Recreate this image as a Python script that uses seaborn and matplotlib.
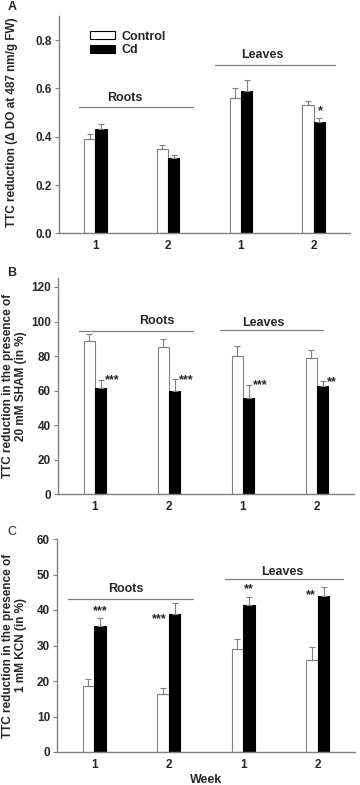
import numpy as np
import pandas as pd
import matplotlib
matplotlib.use("Agg")
import matplotlib.pyplot as plt
import seaborn as sns

# ---------------- data ----------------
groups = ["Roots 1", "Roots 2", "Leaves 1", "Leaves 2"]
week_labels = ["1", "2", "1", "2"]
treatments = ["Control", "Cd"]

a_control = [0.39, 0.35, 0.56, 0.53]
a_control_err = [0.02, 0.015, 0.04, 0.02]
a_cd = [0.43, 0.31, 0.59, 0.46]
a_cd_err = [0.022, 0.013, 0.043, 0.019]
a_stars = ["", "", "", "*"]

b_control = [88.5, 85.0, 80.0, 79.0]
b_control_err = [4.0, 5.0, 6.0, 4.5]
b_cd = [61.8, 59.5, 56.0, 62.5]
b_cd_err = [4.6, 7.0, 7.5, 3.0]
b_stars = ["***", "***", "***", "**"]

c_control = [18.5, 16.3, 29.0, 26.0]
c_control_err = [2.0, 1.7, 2.8, 3.5]
c_cd = [35.5, 39.0, 41.5, 44.0]
c_cd_err = [2.2, 3.0, 2.3, 2.5]
c_stars = ["***", "***", "**", "**"]

# ---------------- style ----------------
sns.set_theme(style="ticks")
plt.rcParams['font.family'] = ['Liberation Sans', 'DejaVu Sans']
plt.rcParams['font.weight'] = 'bold'
plt.rcParams['axes.labelweight'] = 'bold'

GRAY = "#808080"
FS_TICK = 8.5
FS_LAB = 8.5
FS_TXT = 9

fig = plt.figure(figsize=(3.6, 7.85), dpi=100)
W, H = 360, 785
axA = fig.add_axes([59 / W, 1 - 233.3 / H, 291 / W, 217.3 / H])
axB = fig.add_axes([58 / W, 1 - 494.3 / H, 296 / W, 216 / H])
axC = fig.add_axes([57 / W, 1 - 752 / H, 298 / W, 213 / H])


def panel(ax, ctrl, ctrl_err, cd, cd_err, legend):
    df = pd.DataFrame({
        "group": groups * 2,
        "treatment": ["Control"] * len(groups) + ["Cd"] * len(groups),
        "value": ctrl + cd,
    })
    sns.barplot(data=df, x="group", y="value", hue="treatment",
                order=groups, hue_order=treatments,
                palette={"Control": "white", "Cd": "black"},
                edgecolor=GRAY, linewidth=0.8, width=0.31,
                errorbar=None, ax=ax, legend=legend)
    for bar in ax.containers[1]:
        bar.set_edgecolor("black")
    for cont, errs in zip(ax.containers[:2], [ctrl_err, cd_err]):
        xs = [b.get_x() + b.get_width() / 2 for b in cont]
        ys = [b.get_height() for b in cont]
        ax.errorbar(xs, ys, yerr=[np.zeros(len(errs)), errs], fmt="none",
                    ecolor=GRAY, elinewidth=0.8, capsize=2.4, capthick=0.8,
                    zorder=1)
    ax.set_xlim(-0.5, 3.5)
    ax.set_xticks(range(len(groups)))
    ax.set_xticklabels(week_labels)
    ax.set_xlabel("")
    sns.despine(ax=ax)
    for s in ["left", "bottom"]:
        ax.spines[s].set_color(GRAY)
        ax.spines[s].set_linewidth(1.0)
    ax.tick_params(axis="y", length=3, width=0.8, color=GRAY,
                   labelsize=FS_TICK, pad=2)
    ax.tick_params(axis="x", length=0, labelsize=FS_TICK, pad=5)
    for t in ax.get_xticklabels() + ax.get_yticklabels():
        t.set_fontweight("bold")
    centers_ctrl = [b.get_x() + b.get_width() / 2 for b in ax.containers[0]]
    centers_cd = [b.get_x() + b.get_width() / 2 for b in ax.containers[1]]
    return centers_ctrl, centers_cd


# ---- Panel A ----
cc, cd_x = panel(axA, a_control, a_control_err, a_cd, a_cd_err, True)
axA.set_ylim(0, 0.9)
axA.set_yticks([0.0, 0.2, 0.4, 0.6, 0.8])
axA.set_yticklabels(["0.0", "0.2", "0.4", "0.6", "0.8"])
axA.set_ylabel("TTC reduction (\u0394 DO at 487 nm/g FW)", fontsize=FS_LAB,
               fontweight="bold")
axA.yaxis.set_label_coords(-0.142, 0.51)
axA.plot([-0.225, 1.346], [0.522, 0.522], color=GRAY, lw=0.9)
axA.plot([1.649, 3.30], [0.696, 0.696], color=GRAY, lw=0.9)
axA.text(0.41, 0.535, "Roots", ha="center", va="bottom", fontsize=FS_TXT,
         fontweight="bold")
axA.text(2.30, 0.715, "Leaves", ha="center", va="bottom", fontsize=FS_TXT,
         fontweight="bold")
for i, s in enumerate(a_stars):
    if s:
        axA.text(cd_x[i] + 0.01, a_cd[i] + a_cd_err[i] + 0.003, s,
                 ha="center", va="bottom", fontsize=FS_TXT, fontweight="bold")
leg = axA.legend(loc="upper left", bbox_to_anchor=(0.09, 0.955), frameon=False,
                 fontsize=FS_TXT, handlelength=2.0, handleheight=0.6,
                 handletextpad=0.5, labelspacing=0.1, borderaxespad=0)
for txt in leg.get_texts():
    txt.set_fontweight("bold")
for h in leg.legend_handles:
    h.set_edgecolor("black")
    h.set_linewidth(0.8)

# ---- Panel B ----
cc, cd_x = panel(axB, b_control, b_control_err, b_cd, b_cd_err, False)
axB.set_ylim(0, 125)
axB.set_yticks([0, 20, 40, 60, 80, 100, 120])
axB.set_ylabel("TTC reduction in the presence of\n20 mM SHAM (in %)",
               fontsize=FS_LAB, fontweight="bold", linespacing=1.1)
axB.yaxis.set_label_coords(-0.105, 0.5)
axB.plot([-0.217, 1.32], [94.3, 94.3], color=GRAY, lw=0.9)
axB.plot([1.686, 3.076], [95.0, 95.0], color=GRAY, lw=0.9)
axB.text(0.836, 100.4, "Roots", ha="center", va="center", fontsize=FS_TXT,
         fontweight="bold")
axB.text(2.27, 99.0, "Leaves", ha="center", va="center", fontsize=FS_TXT,
         fontweight="bold")
for i, s in enumerate(b_stars):
    axB.text(cd_x[i] + 0.06, b_cd[i] + b_cd_err[i] - 0.5, s, ha="left",
             va="center", fontsize=FS_TXT, fontweight="bold")

# ---- Panel C ----
cc, cd_x = panel(axC, c_control, c_control_err, c_cd, c_cd_err, False)
axC.set_ylim(0, 60)
axC.set_yticks([0, 10, 20, 30, 40, 50, 60])
axC.set_ylabel("TTC reduction in the presence of\n1 mM KCN (in %)",
               fontsize=FS_LAB, fontweight="bold", linespacing=1.1)
axC.yaxis.set_label_coords(-0.1, 0.5)
axC.set_xlabel("Week", fontsize=FS_TXT, fontweight="bold", labelpad=2)
axC.plot([-0.352, 1.325], [43.2, 43.2], color=GRAY, lw=0.9)
axC.plot([1.755, 3.34], [48.6, 48.6], color=GRAY, lw=0.9)
axC.text(0.426, 46.0, "Roots", ha="center", va="center", fontsize=FS_TXT,
         fontweight="bold")
axC.text(2.53, 50.6, "Leaves", ha="center", va="center", fontsize=FS_TXT,
         fontweight="bold")
c_star_x = [cd_x[0], cc[1] - 0.05, cd_x[2], cc[3] - 0.02]
c_star_y = [c_cd[0] + c_cd_err[0] + 0.3, 37.5, c_cd[2] + c_cd_err[2] + 0.3, 44.3]
c_star_va = ["bottom", "center", "bottom", "center"]
for x, y, s, va in zip(c_star_x, c_star_y, c_stars, c_star_va):
    axC.text(x, y, s, ha="center", va=va, fontsize=FS_TXT, fontweight="bold")

# panel letters
fig.text(12 / W, 1 - 7 / H, "A", ha="center", va="center", fontsize=FS_TXT,
         fontweight="bold")
fig.text(12 / W, 1 - 273 / H, "B", ha="center", va="center", fontsize=FS_TXT,
         fontweight="bold")
fig.text(12 / W, 1 - 532 / H, "C", ha="center", va="center", fontsize=FS_TXT,
         fontweight="normal")

fig.savefig("out.png", dpi=100)
